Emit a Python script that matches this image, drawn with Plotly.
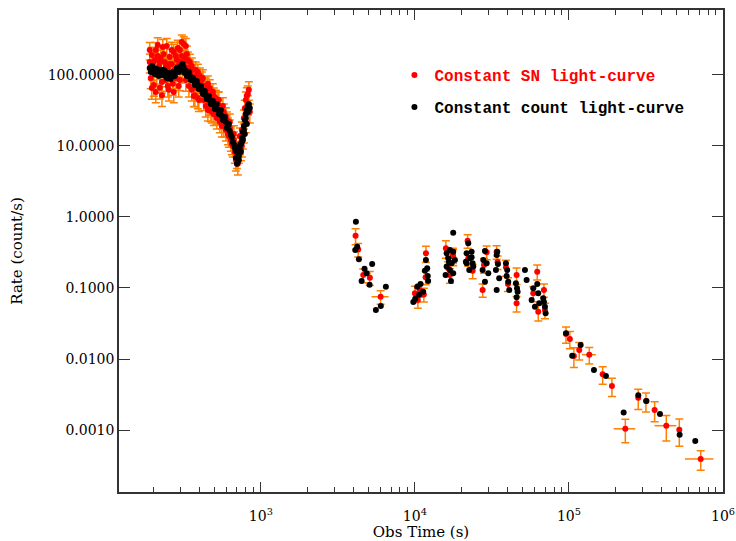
import plotly.graph_objects as go

# ---------------- data ----------------
# Constant SN light-curve (red points, orange error bars) - early part
red_early_t = [
    190, 193, 196, 199, 202, 205, 208, 211, 214, 218,
    221, 224, 228, 231, 234, 238, 242, 245, 249, 253,
    256, 260, 264, 268, 272, 276, 281, 285, 289, 293,
    298, 302, 307, 311, 316, 321, 326, 331, 336, 341,
    346, 351, 356, 362, 367, 373, 378, 384, 390, 396,
    402, 414, 420, 426, 433, 439, 446, 453, 460, 466,
    474, 481, 488, 495, 503, 510, 518, 526, 534, 542,
    550, 558, 567, 575, 584, 593, 602, 611, 620, 629,
    639, 648, 658, 668, 678, 688, 699, 709, 720, 731,
    742, 753, 764, 776, 787, 799, 811, 823, 836, 848,
    190, 196, 202, 208, 214, 221, 228, 234, 242, 249,
    256, 264, 272, 281, 289, 298, 307, 316, 326, 336,
    346, 356, 367, 378, 390, 402, 414, 426, 439, 453,
    466, 481, 495, 510, 526, 542, 558, 575, 593, 611,
    629, 648, 668, 688, 709, 731, 753, 776, 799, 823]
red_early_rate = [
    152, 91, 191, 118, 72, 163, 225, 100, 264, 134,
    66, 174, 52, 248, 110, 152, 85, 256, 126, 62,
    179, 103, 143, 75, 211, 118, 91, 163, 134, 70,
    225, 152, 292, 110, 273, 174, 85, 198, 126, 70,
    152, 103, 62, 118, 85, 52, 97, 66, 110, 44.5,
    80, 58, 91, 44.5, 66, 36.6, 58, 75, 39, 51,
    32, 47, 58, 28, 39, 47, 24.8, 34, 44.5, 21.8,
    30, 24.8, 36.6, 19.1, 26.5, 16.8, 23.2, 19.1, 13.8, 17.9,
    12.1, 14.8, 10.0, 12.1, 8.2, 10.0, 6.8, 5.6, 8.2, 10.7,
    8.8, 16.8, 13, 24.8, 34, 21.8, 51, 39, 62, 30,
    225, 65.6, 152, 57.6, 185, 152, 79.7, 198, 134, 70,
    143, 225, 57.6, 185, 240, 85, 185, 143, 256, 163,
    125.5, 134, 50.6, 117.6, 47.4, 96.8, 85, 70, 70, 32.1,
    65.6, 30.1, 50.6, 28.2, 44.5, 36.6, 19.1, 30.1, 26.5, 14.8,
    21.8, 10.7, 14.8, 6.35, 8.8, 13.8, 10.0, 15.75, 44.5, 54]
red_early_err = [
    45, 27, 55, 35, 22, 48, 62, 30, 70, 40,
    20, 50, 16, 68, 33, 44, 26, 70, 37, 19,
    52, 31, 42, 23, 60, 35, 27, 47, 40, 21,
    64, 45, 75, 33, 72, 50, 26, 57, 37, 21,
    44, 31, 19, 35, 25, 16, 29, 20, 32, 14,
    24, 17, 27, 13, 20, 11, 17, 22, 12, 15,
    10, 14, 17, 8.5, 12, 14, 7.5, 10, 13, 6.5,
    9, 7.5, 11, 5.8, 8, 5, 7, 5.7, 4.2, 5.4,
    3.7, 4.4, 3.0, 3.6, 2.5, 3.0, 2.0, 1.7, 2.5, 3.2,
    2.6, 5, 3.9, 7.4, 10, 6.5, 15, 12, 18, 9,
    62, 20, 45, 17, 55, 45, 24, 58, 40, 21,
    42, 64, 17, 54, 68, 25, 54, 42, 70, 48,
    37, 40, 15, 35, 14, 29, 25, 21, 21, 9.6,
    20, 9, 15, 8.5, 13, 11, 5.7, 9, 8, 4.4,
    6.5, 3.2, 4.4, 1.9, 2.6, 4.1, 3, 4.7, 13, 16]

# Constant SN light-curve - intermediate times
red_mid_t = [4120, 4285, 4620, 5100, 5990,
             11790, 11730, 10770, 11430, 10000, 10450,
             15890, 17730, 16450, 16880, 17650,
             21990, 23700, 22200,
             29230, 27520, 28090,
             33940, 34400,
             38990, 40200,
             45730, 45730,
             62250, 58660, 68810, 63200, 69850]
red_mid_rate = [0.545, 0.349, 0.152, 0.1396, 0.0753,
                0.308, 0.1415, 0.0938, 0.0813, 0.0841, 0.0678,
                0.362, 0.276, 0.189, 0.152, 0.292,
                0.464, 0.175, 0.262,
                0.320, 0.0938, 0.211,
                0.325, 0.232,
                0.196, 0.114,
                0.152, 0.0609,
                0.170, 0.0841, 0.0938, 0.0464, 0.049]
red_mid_err = [0.137, 0.075, 0.033, 0.031, 0.0164,
               0.08, 0.03, 0.02, 0.018, 0.022, 0.016,
               0.1, 0.07, 0.045, 0.035, 0.07,
               0.1, 0.04, 0.06,
               0.07, 0.02, 0.05,
               0.07, 0.05,
               0.05, 0.025,
               0.04, 0.015,
               0.04, 0.02, 0.02, 0.012, 0.012]
red_mid_terr = [120, 130, 140, 150, 760,
                350, 350, 320, 340, 300, 310,
                480, 530, 490, 500, 530,
                660, 710, 670,
                880, 830, 840,
                1000, 1030,
                1170, 1200,
                1370, 1370,
                1870, 1760, 2060, 1900, 2100]

# Constant SN light-curve - late times
red_late_t = [95700, 101400, 107700, 116600, 135500, 165500, 190100,
              232200, 281800, 316200, 359900, 428500, 520500, 716600]
red_late_rate = [0.0225, 0.0191, 0.0110, 0.0134, 0.0115, 0.0061, 0.00417,
                 0.00104, 0.00285, 0.00256, 0.00191, 0.00115, 0.00101, 0.000391]
red_late_err = [0.0058, 0.0052, 0.0034, 0.0037, 0.0030, 0.0017, 0.0012,
                0.00038, 0.0009, 0.00077, 0.0006, 0.00045, 0.00042, 0.00012]
red_late_terr = [3000, 3000, 3500, 4000, 14000, 6000, 6000,
                 37000, 9000, 10000, 12000, 69000, 17000, 150000]

# Constant count light-curve (black points)
black_t = [
    190, 196, 202, 208, 214, 221, 228, 234, 242, 249,
    256, 264, 272, 281, 289, 298, 307, 316, 326, 336,
    346, 356, 367, 378, 390, 402, 414, 426, 439, 453,
    466, 481, 495, 510, 526, 542, 558, 575, 593, 611,
    629, 648, 668, 688, 699, 709, 720, 731, 742, 753,
    764, 776, 787, 799, 811, 823, 836,
    193, 199, 205, 211, 218, 224, 231, 238, 245, 253,
    260, 268, 276, 285, 293, 302, 311, 321, 331, 341,
    351, 362, 373, 384, 396, 408, 420, 433, 446, 460,
    474, 488, 503, 518, 534, 550, 567, 584, 602, 620,
    639, 658, 678, 688, 699, 709, 720, 731, 742, 753,
    764, 776, 787, 799, 811, 823, 836, 848,
    4140, 4220, 4100, 4330, 5280, 4710, 4860, 4510, 5080, 6480, 5580, 6010,
    11790, 12020, 11610, 12190, 10350, 10880, 10660, 11320, 10050, 9770, 12120,
    17730, 16070, 16880, 17730, 16450, 17310, 16070, 16880, 17730, 15820,
    17140, 18190, 16630,
    22200, 21660, 23350, 22770, 21660, 23930, 22540, 21440, 23700, 23350,
    28490, 27800, 29230, 27520, 28490, 29940,
    34230, 33940, 33570, 35260, 33940, 34590,
    38990, 40350, 39750, 40960, 39400,
    45270, 46420, 45730, 46000, 51800, 53100,
    58660, 62250, 63200, 57260, 64170, 60130, 68100, 69850, 70560, 68810,
    95700, 105000, 119100, 145300, 173800, 226500, 281800, 318500,
    389900, 523000, 660700]
black_rate = [
    125, 134, 118, 110, 114, 103, 110, 118, 107, 100,
    94, 97, 103, 110, 118, 130, 134, 125, 114, 103,
    97, 88, 82, 77, 72, 68, 61.5, 56, 52, 47.4,
    44.5, 41.7, 37.8, 35.4, 32.1, 29.2, 26.5, 24.0, 21.8, 19.1,
    16.3, 13.4, 10.7, 8.5, 6.8, 5.95, 7.2, 8.8, 10.7, 12.95,
    15.75, 19.1, 23.2, 28.2, 32.1, 36.6, 39.1,
    110, 130, 103, 121, 97, 118, 100, 114, 91, 107,
    88, 110, 97, 125, 110, 118, 143, 107, 97, 110,
    85, 91, 72, 82, 63.5, 70, 54, 59.5, 45.9, 50.6,
    39.1, 43, 33.2, 39.1, 28.2, 32.1, 23.2, 25.6, 17.9, 20.4,
    14.3, 11.4, 9.4, 6.8, 5.6, 7.45, 6.35, 10.0, 8.2, 11.4,
    12.1, 16.8, 14.8, 24.8, 20.4, 30.1, 32.1, 34.3,
    0.859, 0.382, 0.343, 0.254, 0.218, 0.187, 0.161, 0.1255, 0.111, 0.104, 0.049, 0.0557,
    0.248, 0.189, 0.175, 0.1255, 0.104, 0.1138, 0.0805, 0.0887, 0.0708, 0.0636, 0.147,
    0.601, 0.308, 0.343, 0.325, 0.262, 0.223, 0.200, 0.179, 0.161, 0.152,
    0.1255, 0.248, 0.232,
    0.426, 0.308, 0.325, 0.262, 0.223, 0.200, 0.179, 0.235, 0.223, 0.272,
    0.332, 0.248, 0.223, 0.179, 0.1227, 0.161,
    0.325, 0.292, 0.179, 0.137, 0.0938, 0.218,
    0.223, 0.1227, 0.179, 0.0938, 0.147,
    0.1165, 0.0887, 0.074, 0.099, 0.179, 0.130,
    0.099, 0.1138, 0.0841, 0.0678, 0.0609, 0.0545, 0.0716, 0.0545, 0.044, 0.0636,
    0.0230, 0.0111, 0.0157, 0.0070, 0.00577, 0.00177, 0.00308, 0.00256,
    0.00168, 0.000859, 0.000700]

# axis ticks
x_tickvals = [1e3, 1e4, 1e5, 1e6]
x_ticktext = ["10<sup>3</sup>", "10<sup>4</sup>", "10<sup>5</sup>", "10<sup>6</sup>"]
y_tickvals = [100, 10, 1, 0.1, 0.01, 0.001]
y_ticktext = ["100.0000", "10.0000", "1.0000", "0.1000", "0.0100", "0.0010"]
x_minor = [m * 10 ** e for e in (2, 3, 4, 5) for m in range(2, 10) if m * 10 ** e > 120]

RED = "rgb(255,0,0)"
ORANGE = "rgb(255,128,0)"
SERIF = "DejaVu Serif"

fig = go.Figure()

red_name = '<span style="color:rgb(255,0,0)">Constant SN light-curve</span>'
red_sets = [
    (red_early_t, red_early_rate, red_early_err, None, True),
    (red_mid_t, red_mid_rate, red_mid_err, red_mid_terr, False),
    (red_late_t, red_late_rate, red_late_err, red_late_terr, False),
]
for t, r, e, te, show in red_sets:
    fig.add_trace(go.Scatter(
        x=t, y=r, mode="markers", name=red_name,
        legendgroup="sn", showlegend=show,
        marker=dict(color=RED, size=6, line=dict(width=0)),
        error_y=dict(type="data", array=e, visible=True, color=ORANGE,
                     thickness=1.5, width=4),
        error_x=(dict(type="data", array=te, visible=True, color=ORANGE,
                      thickness=1.5, width=0) if te is not None else None),
    ))

fig.add_trace(go.Scatter(
    x=black_t, y=black_rate, mode="markers",
    name="Constant count light-curve", legendgroup="cc",
    marker=dict(color="black", size=6, line=dict(width=0)),
))

axis_common = dict(
    type="log", showline=True, linecolor="#333", linewidth=1.5, mirror="ticks",
    ticks="inside", tickcolor="#333", tickwidth=1.2, showgrid=False, zeroline=False,
    tickfont=dict(family=SERIF, size=14, color="black"), automargin=False,
)

fig.update_layout(
    width=736, height=541,
    margin=dict(l=119, r=13, t=10, b=49),
    paper_bgcolor="white", plot_bgcolor="white",
    font=dict(family=SERIF, size=14, color="black"),
    xaxis=dict(**axis_common, range=[2.0792, 6.0], ticklen=10,
               tickvals=x_tickvals, ticktext=x_ticktext, ticklabelstandoff=10,
               minor=dict(ticks="inside", ticklen=5, tickcolor="#333",
                          tickvals=x_minor, showgrid=False),
               title=dict(text="Obs Time (s)", font=dict(family=SERIF, size=15),
                          standoff=2)),
    yaxis=dict(**axis_common, range=[-3.873, 2.915], ticklen=11,
               tickvals=y_tickvals, ticktext=y_ticktext,
               title=dict(text="Rate (count/s)", font=dict(family=SERIF, size=15),
                          standoff=21)),
    legend=dict(x=0.456, y=0.900, xanchor="left", yanchor="top",
                bgcolor="rgba(0,0,0,0)", borderwidth=0,
                font=dict(family="Liberation Mono", size=16, color="black",
                          weight="bold"),
                tracegroupgap=8),
)

fig.write_html("out.html")
